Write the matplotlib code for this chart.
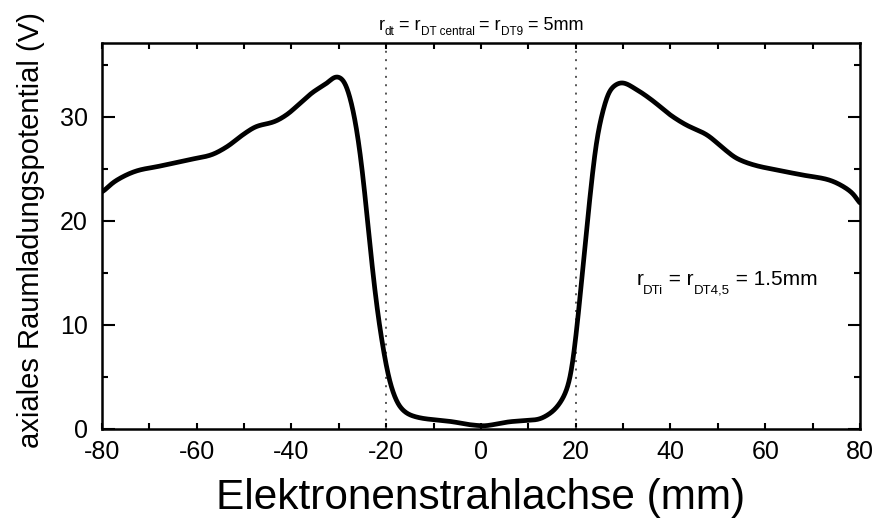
import numpy as np
import matplotlib
matplotlib.use("Agg")
import matplotlib.pyplot as plt
from matplotlib.ticker import MultipleLocator

plt.rcParams["font.family"] = ["Liberation Sans", "DejaVu Sans"]
plt.rcParams["axes.unicode_minus"] = False

# Axial space-charge potential along the electron beam axis
position_mm = [-80.0, -77.3, -72.0, -68.5, -61.4, -57.2, -53.7, -50.2, -47.3, -43.8,
               -41.0, -38.2, -35.4, -32.6, -30.5, -29.1, -27.7, -26.2, -24.8, -23.4,
               -22.0, -20.6, -19.2, -17.1, -15.0, -12.0, -9.0, -6.0, -3.0, -1.0,
               0.5, 3.0, 6.1, 9.0, 11.8, 14.6, 16.7, 18.8, 20.2, 21.6,
               23.0, 24.4, 25.8, 27.2, 29.7, 32.9, 36.4, 39.9, 43.4, 47.6,
               51.1, 54.0, 58.2, 62.4, 68.0, 73.0, 77.2, 79.3, 80.0]
potential_V = [22.7, 23.8, 24.9, 25.2, 25.9, 26.3, 27.1, 28.3, 29.1, 29.5,
               30.2, 31.3, 32.4, 33.2, 33.9, 33.6, 32.0, 28.75, 23.9, 17.5,
               11.8, 7.6, 4.4, 2.1, 1.35, 1.0, 0.85, 0.7, 0.45, 0.35,
               0.3, 0.45, 0.7, 0.8, 0.9, 1.5, 2.5, 4.7, 9.5, 15.9,
               22.3, 27.8, 30.7, 32.6, 33.3, 32.6, 31.5, 30.2, 29.2, 28.3,
               27.0, 26.0, 25.3, 24.9, 24.4, 24.0, 23.1, 22.2, 21.5]

drift_tube_edges = [-20, 20]
x_ticks = [-80, -60, -40, -20, 0, 20, 40, 60, 80]
y_ticks = [0, 10, 20, 30]

# annotation pieces: (text, is_subscript)
label_outer = [("r", False), ("dt", True), (" = r", False), ("DT central", True),
               (" = r", False), ("DT9", True), (" = 5mm", False)]
label_inner = [("r", False), ("DTi", True), (" = r", False), ("DT4,5", True),
               (" = 1.5mm", False)]


def pchip(x, y, xn):
    """Monotone piecewise cubic Hermite interpolation."""
    x = np.asarray(x, float)
    y = np.asarray(y, float)
    h = np.diff(x)
    d = np.diff(y) / h
    m = np.zeros_like(y)
    for k in range(1, len(x) - 1):
        if d[k - 1] * d[k] > 0:
            w1 = 2 * h[k] + h[k - 1]
            w2 = h[k] + 2 * h[k - 1]
            m[k] = (w1 + w2) / (w1 / d[k - 1] + w2 / d[k])
    m[0] = d[0]
    m[-1] = d[-1]
    idx = np.clip(np.searchsorted(x, xn) - 1, 0, len(x) - 2)
    t = (xn - x[idx]) / h[idx]
    h00 = 2 * t**3 - 3 * t**2 + 1
    h10 = t**3 - 2 * t**2 + t
    h01 = -2 * t**3 + 3 * t**2
    h11 = t**3 - t**2
    return (h00 * y[idx] + h10 * h[idx] * m[idx]
            + h01 * y[idx + 1] + h11 * h[idx] * m[idx + 1])


def smooth(xs, ys, sigma):
    step = xs[1] - xs[0]
    n = int(4 * sigma / step)
    k = np.exp(-0.5 * (np.arange(-n, n + 1) * step / sigma) ** 2)
    k /= k.sum()
    return np.convolve(np.pad(ys, n, mode="edge"), k, mode="valid")


def subscript_text(ax, fig, x, y, pieces, size, sub_size, drop, transform, center=False):
    """Draw a run of normal and subscripted text pieces starting at (x, y)."""
    renderer = fig.canvas.get_renderer()
    texts = []
    offset = 0.0
    for s, is_sub in pieces:
        t = ax.annotate(s, (x, y), xycoords=transform,
                        xytext=(offset, -drop if is_sub else 0),
                        textcoords="offset points",
                        fontsize=sub_size if is_sub else size,
                        ha="left", va="baseline")
        bb = t.get_window_extent(renderer)
        offset += bb.width * 72.0 / fig.dpi
        texts.append(t)
    if center:
        for t in texts:
            ox, oy = t.xyann
            t.xyann = (ox - offset / 2.0, oy)


fig = plt.figure(figsize=(8.76, 5.24), dpi=100)
ax = fig.add_axes([0.1164, 0.1813, 0.8653, 0.7367])

xs = np.linspace(-80, 80, 3201)
ys = smooth(xs, pchip(position_mm, potential_V, xs), 0.6)
ax.plot(xs, ys, color="black", lw=3.4, solid_capstyle="round",
        solid_joinstyle="round", zorder=3)

for xe in drift_tube_edges:
    ax.axvline(xe, color="#555555", lw=1.4, ls=(0, (1, 3.3)), zorder=2)

ax.set_xlim(-80, 80)
ax.set_ylim(0, 37.1)
ax.set_xticks(x_ticks)
ax.set_yticks(y_ticks)
ax.xaxis.set_minor_locator(MultipleLocator(10))
ax.yaxis.set_minor_locator(MultipleLocator(5))
ax.tick_params(which="both", direction="in", top=True, right=True, width=1.5)
ax.tick_params(axis="x", which="both", length=4.5)
ax.tick_params(axis="y", which="major", length=9)
ax.tick_params(axis="y", which="minor", length=4.5)
ax.tick_params(axis="x", which="major", labelsize=18, pad=8)
ax.tick_params(axis="y", which="major", labelsize=18, pad=10)
for s in ax.spines.values():
    s.set_linewidth(1.8)

ax.set_xlabel("Elektronenstrahlachse (mm)", fontsize=30.5, labelpad=10)
ax.set_ylabel("axiales Raumladungspotential (V)", fontsize=21, labelpad=11)
ax.yaxis.label.set_y(0.515)

fig.canvas.draw()
subscript_text(ax, fig, 0.0, 1.034, label_outer, 13, 8.5, 3.8,
               ax.get_xaxis_transform(), center=True)
subscript_text(ax, fig, 32.8, 13.8, label_inner, 15, 9.5, 6.0, "data")

fig.savefig("out.png", dpi=100)
